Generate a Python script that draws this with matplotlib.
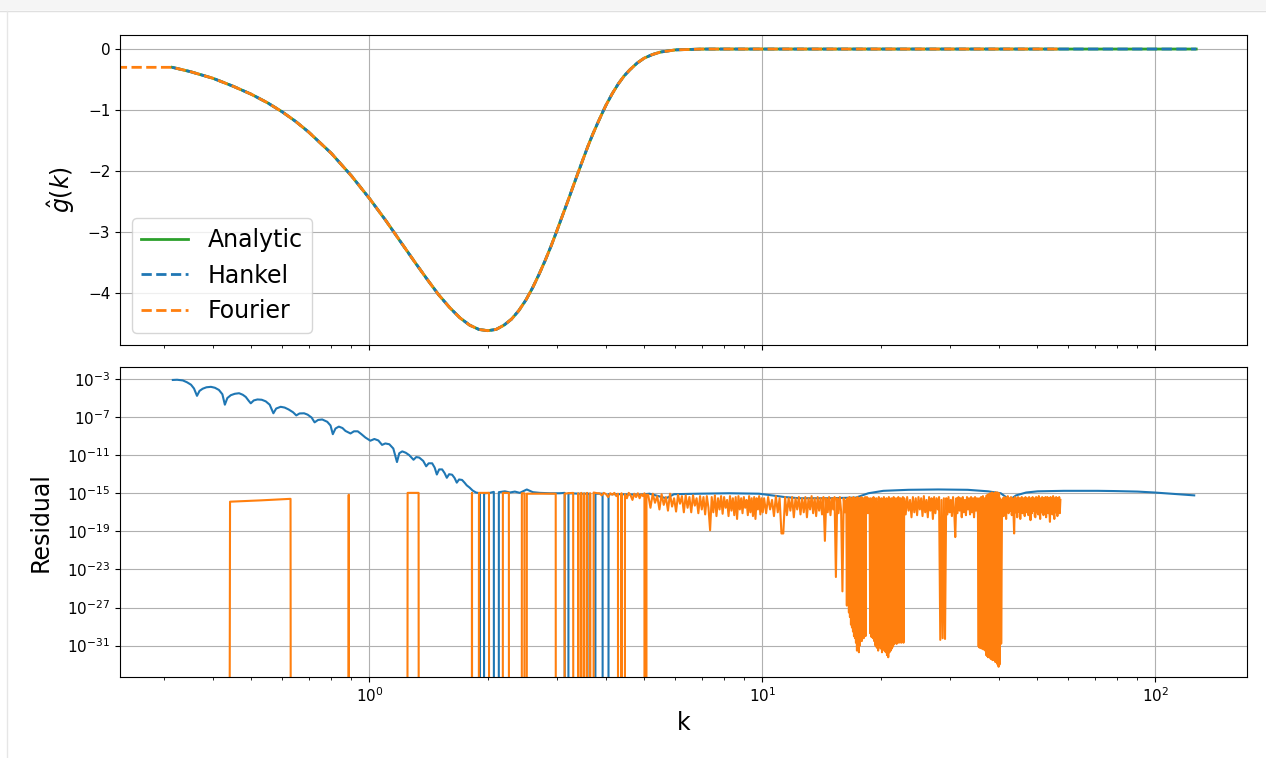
import matplotlib
matplotlib.use('Agg')
from matplotlib import pyplot as plt
from matplotlib import ticker
from matplotlib.patches import Rectangle
import numpy as np

# ---- top panel: g-hat(k) ----
k_top = [0.315, 0.35, 0.4, 0.45, 0.5, 0.55, 0.6, 0.65, 0.7, 0.8, 0.9, 1.0, 1.1, 1.2, 1.3,
         1.4, 1.5, 1.6, 1.7, 1.8, 1.9, 2.0, 2.1, 2.2, 2.3, 2.4, 2.5, 2.6, 2.7, 2.8, 2.9,
         3.0, 3.1, 3.2, 3.3, 3.4, 3.5, 3.6, 3.7, 3.8, 3.9, 4.0, 4.15, 4.3, 4.45, 4.6, 4.8,
         5.0, 5.25, 5.5, 6.0, 7.0, 8.0, 10.0, 20.0, 57.3, 127.0]
g_analytic = [-0.30, -0.37, -0.48, -0.61, -0.74, -0.88, -1.03, -1.19, -1.36, -1.71, -2.08,
              -2.45, -2.81, -3.16, -3.48, -3.77, -4.03, -4.24, -4.41, -4.53, -4.60, -4.62,
              -4.60, -4.53, -4.43, -4.29, -4.12, -3.92, -3.70, -3.47, -3.23, -2.98, -2.73,
              -2.49, -2.25, -2.02, -1.80, -1.59, -1.40, -1.23, -1.07, -0.92, -0.73, -0.57,
              -0.44, -0.34, -0.23, -0.15, -0.09, -0.05, -0.014, -0.0004, 0, 0, 0, 0, 0]
g_hankel = list(g_analytic)
# fourier grid starts at k=0 (clipped on the log axis) and stops at k~57
k_fourier = [0.0] + k_top[:-1]
g_fourier = [-0.30] + g_analytic[:-1]

# ---- bottom panel: hankel residual ----
hk_decay = [0.3161, 0.3241, 0.3351, 0.3436, 0.3517, 0.3579, 0.3642, 0.3696, 0.3765, 0.3850,
            0.3952, 0.4045, 0.4141, 0.4226, 0.4288, 0.4351, 0.4441, 0.4546, 0.4661, 0.4763,
            0.4847, 0.4933, 0.4991, 0.5079, 0.5190, 0.5322, 0.5448, 0.5576, 0.5698, 0.5792,
            0.5946, 0.6086, 0.6230, 0.6395, 0.6516, 0.6642, 0.6821, 0.6964, 0.7128, 0.7254,
            0.7404, 0.7587, 0.7812, 0.7964, 0.8071, 0.8199, 0.8360, 0.8540, 0.8692, 0.8952,
            0.9135, 0.9340, 0.9544, 0.9769, 1.0058, 1.0296, 1.0539, 1.0770, 1.0979, 1.1239,
            1.1504, 1.1754, 1.1913, 1.2123, 1.2374, 1.2630, 1.2951, 1.3157, 1.3390, 1.3706,
            1.3948, 1.4153, 1.4445, 1.4657, 1.4846, 1.5047, 1.5313, 1.5538, 1.5740, 1.5952,
            1.6234, 1.6472, 1.6685, 1.6910, 1.7209, 1.7462, 1.7688, 1.7980, 1.8319]
hr_decay = [7.9e-4, 8.3e-4, 7.1e-4, 4.5e-4, 2.5e-4, 1.0e-4, 1.7e-5, 5.6e-5, 9.5e-5, 1.35e-4,
            1.5e-4, 1.2e-4, 7.1e-5, 2.5e-5, 2.0e-6, 1.0e-5, 2.0e-5, 2.8e-5, 3.2e-5, 2.2e-5,
            1.3e-5, 5.0e-6, 2.8e-6, 5.6e-6, 7.1e-6, 6.6e-6, 4.5e-6, 2.0e-6, 2.5e-7, 7.9e-7,
            1.2e-6, 1.0e-6, 6.3e-7, 3.2e-7, 1.5e-7, 2.4e-7, 2.5e-7, 1.8e-7, 8.9e-8, 2.8e-8,
            5.0e-8, 5.6e-8, 3.2e-8, 1.3e-8, 1.6e-9, 6.3e-9, 1.0e-8, 7.1e-9, 3.5e-9, 1.9e-9,
            3.2e-9, 3.2e-9, 1.6e-9, 7.1e-10, 3.3e-10, 5.0e-10, 3.5e-10, 1.2e-10, 1.7e-10, 1.4e-10,
            5.0e-11, 1.9e-12, 1.6e-11, 2.5e-11, 1.8e-11, 1.0e-11, 3.3e-12, 6.3e-12, 5.6e-12, 2.5e-12,
            6.8e-13, 1.4e-12, 1.4e-12, 5.0e-13, 9.3e-14, 3.2e-13, 3.2e-13, 1.3e-13, 4.2e-14, 1.0e-13,
            8.9e-14, 4.0e-14, 1.3e-14, 2.8e-14, 2.5e-14, 1.3e-14, 6.8e-15, 4.0e-15, 1.9e-15]
hk_flat = [1.867, 1.911, 1.937, 1.958, 2.026, 2.073, 2.107, 2.135, 2.212, 2.277,
           2.345, 2.414, 2.515, 2.605, 2.712, 2.876, 3.05, 3.14, 3.17, 3.21,
           3.43, 3.63, 3.704, 3.76, 3.92, 3.99, 4.06, 4.33, 4.86, 5.16,
           5.69, 5.96, 6.90, 8.2, 9.8, 11.4, 12.4, 14.7, 17.3, 18.6,
           20.3, 23.5, 28.0, 33.3, 37.5, 40.4, 42.6, 44.2, 46.9, 50.2,
           58.5, 71.3, 78.7, 90.0, 99.4, 113.6, 125.5]
hr_flat = [1.2e-15, 1.0e-15, 0, 1.0e-15, 1.1e-15, 1.4e-15, 0, 1.3e-15, 1.6e-15, 1.2e-15,
           1.5e-15, 1.1e-15, 2.5e-15, 1.3e-15, 1.1e-15, 1.0e-15, 1.0e-15, 1.1e-15, 0, 1.0e-15,
           9e-16, 9e-16, 0, 9e-16, 9e-16, 0, 8e-16, 8e-16, 7e-16, 9e-16,
           3e-16, 8e-16, 9e-16, 1.0e-15, 9e-16, 4e-16, 3e-16, 3e-16, 3.5e-16, 1.0e-15,
           1.8e-15, 2.3e-15, 2.5e-15, 2.3e-15, 1.6e-15, 1.0e-15, 2e-16, 6e-16, 1.2e-15, 1.6e-15,
           1.8e-15, 1.8e-15, 1.7e-15, 1.5e-15, 1.2e-15, 8e-16, 6e-16]

# ---- fourier residual (0 = exact, drops off the log axis) ----
fk_low = [0.315, 0.40, 0.442, 0.53, 0.630, 0.66, 0.84, 0.886, 0.92, 1.20, 1.251, 1.29, 1.334,
          1.37, 1.78, 1.824, 1.86, 1.900, 1.95, 2.015, 2.05, 2.15, 2.186, 2.264, 2.30, 2.41,
          2.443, 2.48, 2.50, 2.515, 2.60, 2.75, 2.88, 2.979, 3.02, 3.10, 3.139, 3.20, 3.30,
          3.367, 3.40, 3.426, 3.46, 3.487, 3.52, 3.549, 3.58, 3.612, 3.645, 3.676, 3.72, 3.80,
          3.85, 3.90, 3.95, 4.00, 4.05, 4.10, 4.15, 4.20, 4.25, 4.29, 4.33, 4.38, 4.43, 4.47,
          4.52, 4.57, 4.62, 4.67, 4.72, 4.77, 4.82, 4.87, 4.92, 4.97, 5.01, 5.04, 5.07]
fr_low = [0, 0, 1.3e-16, 1.8e-16, 2.6e-16, 0, 0, 7e-16, 0, 0, 1.1e-15, 1.1e-15, 1.1e-15,
          0, 0, 1.1e-15, 0, 1.1e-15, 1.1e-15, 1.1e-15, 0, 0, 1.1e-15, 1.1e-15, 0, 0,
          1.0e-15, 1.0e-15, 0, 9e-16, 9e-16, 9e-16, 9e-16, 9e-16, 0, 0, 9e-16, 1.0e-15, 1.1e-15,
          0, 1.0e-15, 0, 1.1e-15, 0, 1.0e-15, 0, 1.1e-15, 0, 1.0e-15, 0, 1.2e-15, 1.0e-15,
          1.0e-15, 6e-16, 1.1e-15, 8e-16, 4e-16, 1.0e-15, 7e-16, 1.1e-15, 5e-16, 9e-16, 0,
          1.0e-15, 0, 8e-16, 3e-16, 1.1e-15, 6e-16, 2e-16, 9e-16, 4e-16, 1.0e-15, 3e-16, 8e-16,
          5e-16, 1.0e-15, 0, 7e-16]

# evenly spaced stretches of the fourier grid: (first k, last k) and the values read
n1_span = (5.12, 10.02)
n1 = [7e-16, 3e-17, 9e-16, 1e-16, 5e-16, 2e-17, 8e-16, 6e-17, 4e-16, 1.5e-17,
      9e-16, 4e-17, 3e-16, 1.2e-17, 7e-16, 8e-17, 5e-16, 1e-17, 6e-16, 3e-17,
      4e-16, 1e-17, 6e-16, 5e-17, 3e-16, 8e-18, 5e-16, 2e-17, 4e-16, 6e-18,
      5e-16, 3e-17, 1.3e-19, 4e-16, 1e-17, 6e-16, 4e-18, 3e-16, 2e-17, 5e-16,
      7e-18, 4e-16, 3e-17, 2e-16, 4e-18, 5e-16, 1.5e-17, 3e-16, 5e-18, 4e-16,
      2e-18, 5e-16, 2e-17, 3e-16, 8e-18, 4e-16, 3e-17, 2e-16, 5e-18, 5e-16,
      1e-17, 3e-16, 4e-18, 4e-16, 2e-18, 3e-16, 2e-17, 5e-16, 6e-18, 3e-16,
      1e-17]
n2_span = (10.1, 16.22)
n2 = [3e-16, 8e-18, 4e-16, 2e-17, 2e-16, 4e-18, 5e-16, 1e-17, 3e-16, 6e-20,
      6e-20, 4e-16, 5e-18, 3e-16, 1.5e-17, 4e-16, 3e-18, 3e-16, 2e-17, 4e-16,
      6e-18, 3e-16, 1e-17, 4e-16, 3e-18, 3e-16, 2e-17, 5e-16, 8e-18, 3e-16,
      4e-18, 4e-16, 1.5e-17, 3e-16, 6e-18, 4e-16, 1e-20, 3e-16, 1e-17, 4e-16,
      5e-18, 3e-16, 2e-17, 4e-16, 1.6e-24, 3e-16, 8e-18, 4e-16, 1.2e-17, 5e-26,
      3e-16, 1e-17]
b1_span = (16.35, 18.30)
b1 = [2e-16, 1.6e-27, 3e-16, 5e-27, 1e-16, 3e-28, 4e-16, 1e-28, 2e-16, 1.6e-29,
      3e-16, 8e-30, 1e-16, 3e-30, 4e-16, 1e-30, 2e-16, 6e-31, 3e-16, 2e-31,
      1e-16, 3e-32, 4e-16, 5e-32, 2e-16, 2e-32, 3e-16, 1e-31, 1e-16, 5e-31,
      4e-16, 3e-31, 2e-16, 1e-30, 3e-16, 6e-31, 1e-16, 2e-30, 4e-16, 1e-30]
n3_span = (18.35, 18.75)
n3 = [5e-17, 4e-16, 8e-18, 3e-16, 1e-17]
b2_span = (18.8, 22.85)
b2 = [2e-30, 3e-16, 8e-31, 1e-16, 6e-31, 4e-16, 3e-31, 2e-16, 1e-31, 3e-16,
      6e-32, 1e-16, 3e-32, 4e-16, 8e-32, 2e-16, 5e-32, 3e-16, 2e-32, 1e-16,
      1e-31, 4e-16, 3e-32, 2e-16, 2e-32, 3e-16, 1e-32, 1e-16, 6e-33, 4e-16,
      2e-32, 2e-16, 3e-32, 3e-16, 5e-32, 1e-16, 8e-32, 4e-16, 1.5e-31, 2e-16,
      2e-31, 3e-16, 1.5e-31, 1e-16, 3e-31, 4e-16, 2e-31, 2e-16, 3e-31, 3e-16,
      2e-31, 1e-16, 3e-31, 4e-16, 2e-31]
n4_span = (22.95, 35.35)
n4 = [3e-16, 6e-18, 4e-16, 1.5e-17, 2e-16, 3e-18, 4e-16, 1e-17, 3e-16, 5e-18,
      4e-16, 2e-17, 3e-16, 4e-18, 5e-16, 1e-17, 2e-16, 3e-18, 4e-16, 1.5e-17,
      3e-16, 2e-18, 4e-16, 8e-18, 3e-16, 2e-17, 4e-16, 4e-31, 2e-16, 6e-31,
      3e-16, 5e-31, 3e-16, 6e-18, 4e-16, 1e-17, 2e-16, 4e-18, 4e-16, 2e-17,
      2.5e-20, 3e-16, 8e-18, 4e-16, 1.5e-17, 3e-16, 3e-18, 4e-16, 1e-17, 2e-16,
      5e-18, 4e-16, 2e-17, 3e-16, 6e-18, 4e-16, 1e-17, 3e-16, 3e-18, 4e-16,
      1.5e-17, 3e-16, 6e-18]
b3_span = (35.5, 40.5)
b3 = [8e-32, 3e-16, 6e-32, 1e-16, 8e-32, 4e-16, 5e-32, 2e-16, 7e-32, 5e-16,
      4e-32, 1e-16, 5e-32, 3e-16, 3e-32, 2e-16, 1e-32, 6e-16, 8e-33, 3e-16,
      6e-33, 8e-16, 1e-32, 2e-16, 6e-33, 1e-15, 4e-33, 4e-16, 5e-33, 1.2e-15,
      3e-33, 5e-16, 4e-33, 1e-15, 3e-33, 4e-16, 2e-33, 1.3e-15, 3e-33, 6e-16,
      1.5e-33, 1.2e-15, 1e-33, 5e-16, 6e-34, 1e-15, 1e-33, 3e-16, 1.6e-31, 2e-16,
      1.6e-31]
n5_span = (40.7, 57.3)
n5 = [1e-17, 3e-16, 4e-18, 4e-16, 2e-17, 2e-18, 3e-16, 5e-16, 8e-18, 3e-16,
      1.5e-17, 4e-16, 5e-18, 3e-16, 2e-17, 6e-20, 4e-16, 1e-17, 3e-16, 3e-18,
      4e-16, 1.2e-17, 3e-16, 2e-18, 2e-16, 4e-16, 8e-18, 3e-16, 2e-17, 4e-18,
      4e-16, 1e-17, 2e-16, 3e-16, 5e-18, 4e-16, 2e-17, 1.5e-18, 3e-16, 8e-18,
      4e-16, 1.5e-17, 3e-16, 4e-18, 3e-18, 4e-16, 1e-17, 3e-16, 6e-18, 5e-16,
      2e-17, 2e-18, 3e-16, 1e-17, 4e-16, 3e-16, 5e-18, 3e-16, 1.5e-17, 4e-16,
      3e-18, 2e-16, 4e-16, 8e-18, 3e-16, 2e-17, 1e-18, 4e-16, 1e-17, 3e-16,
      6e-18, 5e-16, 2e-17, 2e-18, 3e-16, 1e-17, 4e-16, 3e-16, 4e-18, 3e-16,
      1e-17, 4e-16, 8e-18, 2e-16]

res_yticks = [1e-3, 1e-7, 1e-11, 1e-15, 1e-19, 1e-23, 1e-27, 1e-31]

hankel_res_k = hk_decay + hk_flat
hankel_res = hr_decay + hr_flat

fourier_res_k = list(fk_low)
fourier_res = list(fr_low)
for span, vals in [(n1_span, n1), (n2_span, n2), (b1_span, b1), (n3_span, n3),
                   (b2_span, b2), (n4_span, n4), (b3_span, b3), (n5_span, n5)]:
    fourier_res_k += list(np.linspace(span[0], span[1], len(vals)))
    fourier_res += vals

plt.rcParams['xtick.labelsize'] = 11
plt.rcParams['ytick.labelsize'] = 11

fig, (ax1, ax2) = plt.subplots(2, 1, sharex=True, figsize=(12.66, 7.58), dpi=100)
fig.subplots_adjust(left=0.0948, right=0.985, top=0.9538, bottom=0.1073, hspace=0.072)

# notebook chrome around the figure
fig.patches.append(Rectangle((0, 1 - 10 / 758), 1, 10 / 758, transform=fig.transFigure,
                             facecolor='#f5f5f5', edgecolor='none', zorder=-5))
fig.lines.append(plt.Line2D([0, 1], [1 - 10.5 / 758] * 2, transform=fig.transFigure,
                            color='#e0e0e0', lw=1))
fig.lines.append(plt.Line2D([6.5 / 1266] * 2, [0, 1 - 10.5 / 758], transform=fig.transFigure,
                            color='#e6e6e6', lw=1))

ax1.plot(k_top, g_analytic, color='C2', lw=2, label='Analytic')
ax1.plot(k_top, g_hankel, '--', color='C0', lw=2, label='Hankel')
ax1.plot(k_fourier, g_fourier, '--', color='C1', lw=2, label='Fourier')
ax1.set_xscale('log')
ax1.set_ylim(-4.85, 0.23)
ax1.set_ylabel(r'$\hat{g}(k)$', fontsize=17, labelpad=8)
ax1.legend(loc='lower left', fontsize=17)
ax1.grid(True)

ax2.plot(hankel_res_k, hankel_res, color='C0')
ax2.plot(fourier_res_k, fourier_res, color='C1')
ax2.set_yscale('log')
ax2.set_ylim(10 ** -34.26, 10 ** -1.74)
ax2.set_yticks(res_yticks)
ax2.yaxis.set_minor_locator(ticker.NullLocator())
ax2.set_xlim(0.232, 171)
ax2.set_ylabel('Residual', fontsize=17, labelpad=10)
ax2.set_xlabel('k', fontsize=17)
ax2.grid(True)

fig.savefig('out.png', dpi=100)
